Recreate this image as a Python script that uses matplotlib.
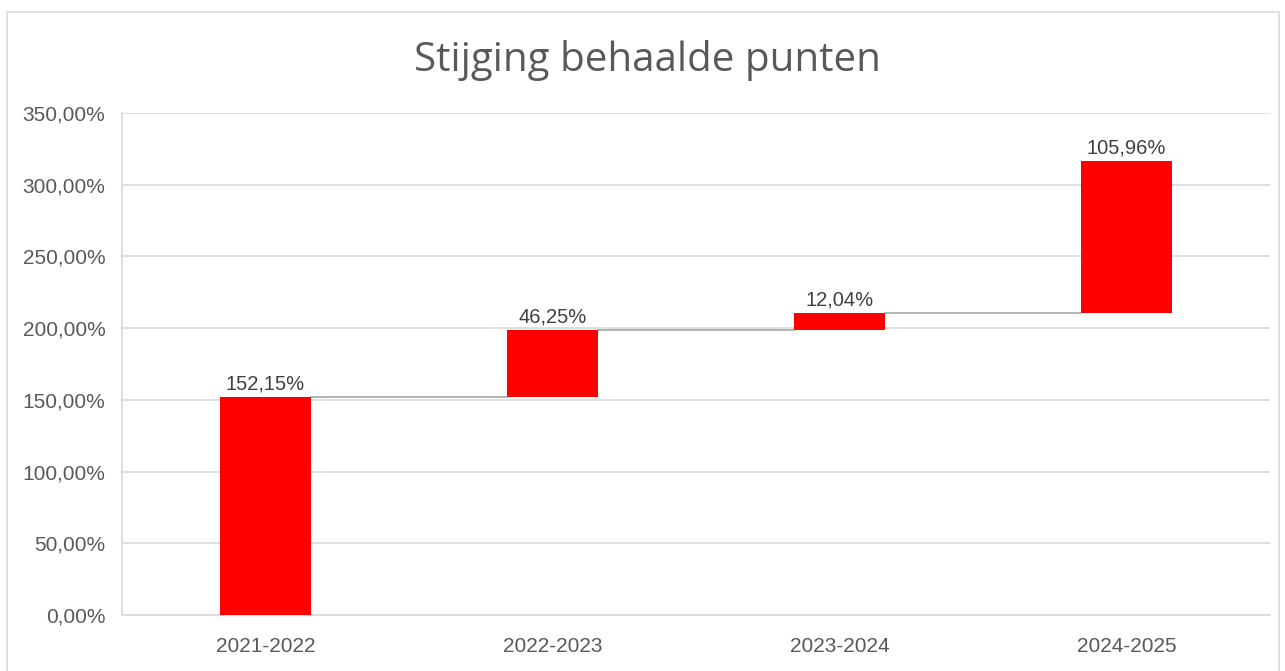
import matplotlib.pyplot as plt
from matplotlib.patches import Rectangle
from matplotlib.ticker import FuncFormatter, MultipleLocator

# data (percentage increase per school year)
categories = ["2021-2022", "2022-2023", "2023-2024", "2024-2025"]
increases = [152.15, 46.25, 12.04, 105.96]
labels = ["152,15%", "46,25%", "12,04%", "105,96%"]


def pct(v, pos):
    return f"{v:.2f}".replace(".", ",") + "%"


def main():
    fig = plt.figure(figsize=(12.85, 6.71), dpi=100)
    ax = fig.add_axes([0.0949, 0.0835, 0.8934, 0.7481])

    # outer chart border
    fig.patches.append(Rectangle((0.0055, -0.01), 0.99, 0.992, transform=fig.transFigure,
                                 fill=False, edgecolor="#d9d9d9", linewidth=1.2))

    # waterfall bottoms
    bottoms = []
    total = 0
    for v in increases:
        bottoms.append(total)
        total += v

    x = list(range(len(categories)))
    width = 0.314
    ax.bar(x, increases, width=width, bottom=bottoms, color="#ff0000", zorder=3)

    # connectors
    for i in range(len(increases) - 1):
        top = bottoms[i] + increases[i]
        ax.plot([x[i] + width / 2, x[i + 1] - width / 2], [top, top],
                color="#a6a6a6", linewidth=1.2, zorder=2)

    for i, lab in enumerate(labels):
        ax.text(x[i], bottoms[i] + increases[i] + 2.5, lab, ha="center", va="bottom",
                fontsize=14.5, color="#404040", family="Liberation Sans")

    ax.set_xlim(-0.5, len(categories) - 0.5)
    ax.set_ylim(0, 350)
    ax.yaxis.set_major_locator(MultipleLocator(50))
    ax.yaxis.set_major_formatter(FuncFormatter(pct))
    ax.set_xticks(x)
    ax.set_xticklabels(categories)
    ax.grid(axis="y", color="#d9d9d9", linewidth=1.2, zorder=0)
    ax.set_axisbelow(True)

    for side in ["top", "right"]:
        ax.spines[side].set_visible(False)
    ax.spines["left"].set_color("#d9d9d9")
    ax.spines["bottom"].set_color("#d9d9d9")
    ax.spines["left"].set_linewidth(1.2)
    ax.spines["bottom"].set_linewidth(1.2)
    ax.tick_params(axis="both", length=0, labelsize=15, labelcolor="#595959")
    ax.tick_params(axis="y", pad=12)
    ax.tick_params(axis="x", pad=16)
    for t in ax.get_xticklabels() + ax.get_yticklabels():
        t.set_family("Liberation Sans")

    fig.text(0.504, 0.91, "Stijging behaalde punten", ha="center", va="center",
             fontsize=29, color="#595959", family="Open Sans")

    fig.savefig("out.png", dpi=100, facecolor="white")


if __name__ == "__main__":
    main()
